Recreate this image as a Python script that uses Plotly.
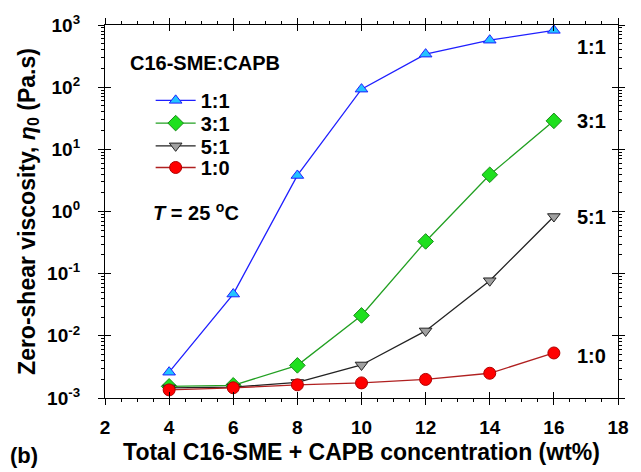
import math
import plotly.graph_objects as go

x_conc = [4, 6, 8, 10, 12, 14, 16]
eta_11 = [2.6e-3, 0.047, 3.8, 93, 340, 570, 820]
eta_31 = [1.54e-3, 1.6e-3, 3.35e-3, 0.0213, 0.33, 3.9, 28.7]
eta_51 = [1.45e-3, 1.5e-3, 1.78e-3, 3.4e-3, 0.012, 0.077, 0.83]
eta_10 = [1.35e-3, 1.46e-3, 1.63e-3, 1.75e-3, 1.99e-3, 2.5e-3, 5.3e-3]
series_names = ["1:1", "3:1", "5:1", "1:0"]
x_ticks = [2, 4, 6, 8, 10, 12, 14, 16, 18]
y_tickvals = [1e-3, 1e-2, 1e-1, 1, 10, 100, 1000]
y_ticktext = ["10<sup>-3</sup>", "10<sup>-2</sup>", "10<sup>-1</sup>", "10<sup>0</sup>",
              "10<sup>1</sup>", "10<sup>2</sup>", "10<sup>3</sup>"]

FONT = "Liberation Sans"

styles = [
    dict(line="#1f1fff", fill="#22c4ff", edge="#1f1fff", symbol="triangle-up", size=11),
    dict(line="#22a022", fill="#1ee01e", edge="#1a8a1a", symbol="diamond", size=12),
    dict(line="#222222", fill="#a0a0a0", edge="#222222", symbol="triangle-down", size=11),
    dict(line="#b02020", fill="#ff0000", edge="#b00000", symbol="circle", size=12),
]
data = [eta_11, eta_31, eta_51, eta_10]
legend_ids = ["legend", "legend2", "legend3", "legend4"]
legend_y = [0.798, 0.737, 0.676, 0.618]

fig = go.Figure()
# empty helper trace so the overlay axes (inner halves of the crossing ticks) get drawn
fig.add_trace(go.Scatter(x=[], y=[], xaxis="x2", yaxis="y2", showlegend=False,
                         hoverinfo="skip"))
for name, y, st, lid in zip(series_names, data, styles, legend_ids):
    fig.add_trace(go.Scatter(
        x=x_conc, y=y, name=name, mode="lines+markers", legend=lid,
        line=dict(color=st["line"], width=1.3),
        marker=dict(symbol=st["symbol"], size=st["size"], color=st["fill"],
                    line=dict(color=st["edge"], width=1)),
    ))

# end labels next to last points
end_label_off = [-17, 0, 0, -3]
for name, y, off in zip(series_names, data, end_label_off):
    fig.add_annotation(x=x_conc[-1], y=math.log10(y[-1]), xref="x", yref="y",
                       text=name, showarrow=False, xanchor="left", xshift=21, yshift=off,
                       font=dict(family=FONT, size=20, color="black", weight="bold"))

fig.add_annotation(x=0.044, y=0.897, xref="paper", yref="paper", text="C16-SME:CAPB",
                   showarrow=False, xanchor="left", yanchor="middle",
                   font=dict(family=FONT, size=20, color="black", weight="bold"))
fig.add_annotation(x=0.09, y=0.501, xref="paper", yref="paper",
                   text="<i>T</i> = 25 <sup>o</sup>C",
                   showarrow=False, xanchor="left", yanchor="middle",
                   font=dict(family=FONT, size=20, color="black", weight="bold"))
fig.add_annotation(x=-0.19, y=-0.155, xref="paper", yref="paper", text="(b)",
                   showarrow=False, xanchor="left", yanchor="middle",
                   font=dict(family=FONT, size=22, color="black", weight="bold"))

axis_common = dict(showline=True, linecolor="black", linewidth=1.3, mirror="ticks",
                   ticks="outside", tickcolor="black", ticklen=6, tickwidth=1.2,
                   showgrid=False, zeroline=False,
                   tickfont=dict(family=FONT, size=19, color="black", weight="bold"))

fig.update_layout(
    xaxis=dict(range=[2, 18], tickvals=x_ticks, **axis_common, ticklabelstandoff=6,
               minor=dict(ticks="outside", dtick=0.5, ticklen=3, tickcolor="black"),
               title=dict(text="Total C16-SME + CAPB concentration (wt%)", standoff=6,
                          font=dict(family=FONT, size=23, color="black", weight="bold"))),
    yaxis=dict(type="log", range=[-3, 3], tickvals=y_tickvals, ticktext=y_ticktext,
               **axis_common, ticklabelstandoff=14,
               minor=dict(ticks="outside", dtick="D1", ticklen=3, tickcolor="black"),
               title=dict(text="Zero-shear viscosity, <i>η</i><sub>0</sub> (Pa.s)", standoff=5,
                          font=dict(family=FONT, size=23, color="black", weight="bold"))),
    xaxis2=dict(overlaying="x", side="bottom", range=[2, 18], tickvals=x_ticks,
                showline=False, mirror="ticks", ticks="inside", ticklen=6, tickwidth=1.2,
                tickcolor="black", showticklabels=False, showgrid=False, zeroline=False),
    yaxis2=dict(overlaying="y", side="left", type="log", range=[-3, 3], tickvals=y_tickvals,
                showline=False, mirror="ticks", ticks="inside", ticklen=6, tickwidth=1.2,
                tickcolor="black", showticklabels=False, showgrid=False, zeroline=False),
)

layout_legends = {}
for lid, ly in zip(legend_ids, legend_y):
    layout_legends[lid] = dict(x=0.089, y=ly, xanchor="left", yanchor="middle",
                               bgcolor="rgba(0,0,0,0)",
                               font=dict(family=FONT, size=20, color="black", weight="bold"),
                               itemwidth=40)

fig.update_layout(
    width=641, height=472,
    margin=dict(l=105, r=13, t=24, b=71),
    paper_bgcolor="white", plot_bgcolor="white",
    showlegend=True,
    **layout_legends,
)

fig.write_html("out.html")
